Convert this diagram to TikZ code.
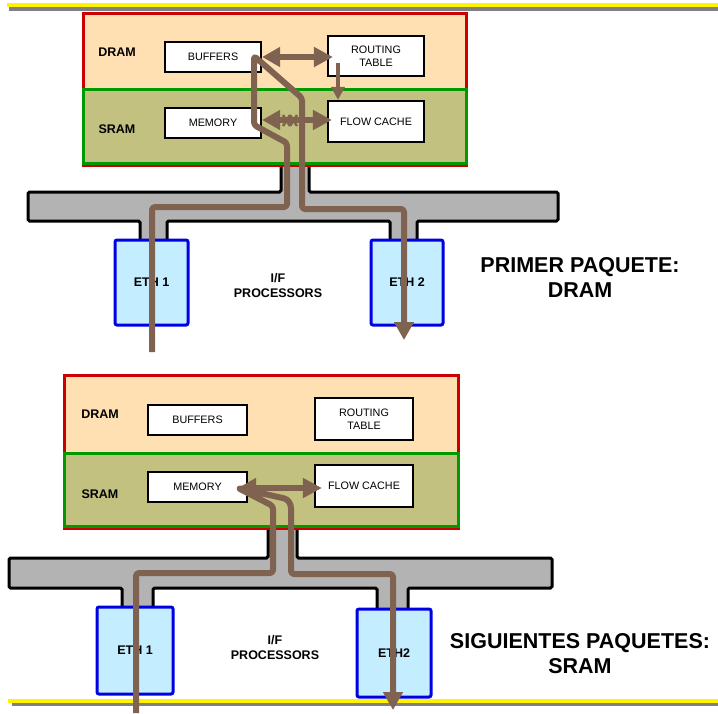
\documentclass[tikz,border=0pt]{standalone}
\usepackage{fontspec}
\setmainfont{Liberation Sans}
\usetikzlibrary{arrows.meta}
\definecolor{brn}{RGB}{128,98,80}
\definecolor{dramfill}{RGB}{255,224,178}
\definecolor{sramfill}{RGB}{194,193,128}
\definecolor{dramred}{RGB}{204,0,0}
\definecolor{sramgreen}{RGB}{0,153,0}
\definecolor{ethfill}{RGB}{196,238,255}
\definecolor{ethblue}{RGB}{0,0,224}
\definecolor{busgray}{RGB}{179,179,179}
\definecolor{rulegray}{RGB}{128,128,128}
\tikzset{
  region/.style={rectangle, inner sep=0pt, line width=3pt},
  dramreg/.style={region, draw=dramred, fill=dramfill},
  sramreg/.style={region, draw=sramgreen, fill=sramfill},
  memblk/.style={rectangle, draw=black, fill=white, line width=2.2pt, inner sep=0pt, align=center, font=\fontsize{10.8}{13}\selectfont},
  ethbox/.style={rectangle, draw=ethblue, fill=ethfill, line width=3pt, rounded corners=2pt, inner sep=0pt, font=\fontsize{12.5}{14}\selectfont\bfseries},
  lbl/.style={font=\fontsize{12.5}{15}\selectfont\bfseries, align=center, inner sep=0pt},
  ttl/.style={font=\fontsize{21.5}{25}\selectfont\bfseries, align=center, inner sep=0pt},
  bus/.style={draw=black, fill=busgray, line width=3pt, rounded corners=1.5pt},
  pkt/.style={draw=brn, line width=6pt, rounded corners=3pt, line join=round},
  bighead/.style={-{Triangle[length=18pt,width=19pt]}},
  dblhead/.style={{Triangle[length=18pt,width=19pt]}-{Triangle[length=19pt,width=19pt]}},
  thinarr/.style={draw=brn, line width=4pt, -{Triangle[length=13pt,width=13pt]}},
  xmark/.style={draw=brn, line width=2.5pt}
}
\begin{document}
\begin{tikzpicture}[x=1pt,y=-1pt]
\useasboundingbox (0,0) rectangle (718,713);
% horizontal rules
\draw[rulegray, line width=3.4pt] (9,9) -- (718,9);
\draw[yellow, line width=3.7pt] (7,5.2) -- (718,5.2);
\draw[rulegray, line width=3pt] (12,704.5) -- (718,704.5);
\draw[yellow, line width=4pt] (8,700.5) -- (718,700.5);

% ===== top panel =====
\draw[bus] (281,160) -- (281,192) -- (28,192) -- (28,221) -- (140,221) -- (140,243) -- (167,243) -- (167,221)
  -- (390,221) -- (390,243) -- (417,243) -- (417,221) -- (558,221) -- (558,192) -- (309,192) -- (309,160);
\node[dramreg, minimum width=383pt, minimum height=152pt] (dram1) at (274.5,89) {};
\node[sramreg, minimum width=383pt, minimum height=74pt] (sram1) at (274.5,126) {};
\node[lbl] (dl1) at (117,52) {DRAM};
\node[lbl] (sl1) at (117,129) {SRAM};
\node[memblk, minimum width=96pt, minimum height=30pt] (buf1) at (213,57) {BUFFERS};
\node[memblk, minimum width=96pt, minimum height=40pt] (rt1) at (376,56) {ROUTING\\TABLE};
\node[memblk, minimum width=96pt, minimum height=30pt] (mem1) at (213,123) {MEMORY};
\node[memblk, minimum width=96pt, minimum height=41pt] (fc1) at (376,121.5) {FLOW CACHE};
\node[ethbox, minimum width=73pt, minimum height=85pt] (eth1a) at (151.5,282.5) {ETH 1};
\node[ethbox, minimum width=72pt, minimum height=85pt] (eth2a) at (407,282.5) {ETH 2};
\node[lbl] (ifp1) at (278,286) {I/F\\PROCESSORS};
\node[ttl] (ttl1) at (580,277) {PRIMER PAQUETE:\\DRAM};

\coordinate (in1) at (152,352);
\coordinate (out1) at (404,340);
\draw[pkt, bighead] (in1) -- (152,207) -- (287,207) -- (287,143) -- (254,125) -- (254,56)
  -- (302,98) -- (302,209) -- (404,209) -- (out1);
\draw[pkt, dblhead] (buf1.east) -- ([xshift=6pt]buf1.east -| rt1.west);
\draw[pkt, dblhead] ([yshift=3pt]mem1.east) -- ([xshift=5pt,yshift=3pt]mem1.east -| fc1.west);
\coordinate (rtf) at (338,63);
\draw[thinarr] (rtf) -- (rtf |- fc1.north);
\draw[xmark] (283,115) -- (290,126) (283,126) -- (290,115) (290,115) -- (297,126) (290,126) -- (297,115);

% ===== bottom panel =====
\draw[bus] (268,524) -- (268,558) -- (9,558) -- (9,588) -- (122,588) -- (122,610) -- (153,610) -- (153,588)
  -- (377,588) -- (377,612) -- (408,612) -- (408,588) -- (552,588) -- (552,558) -- (297,558) -- (297,524);
\node[dramreg, minimum width=394pt, minimum height=153pt] (dram2) at (261,451.5) {};
\node[sramreg, minimum width=394pt, minimum height=73pt] (sram2) at (261,489.5) {};
\node[lbl] (dl2) at (100,414) {DRAM};
\node[lbl] (sl2) at (100,494) {SRAM};
\node[memblk, minimum width=99pt, minimum height=30pt] (buf2) at (197.5,420) {BUFFERS};
\node[memblk, minimum width=98pt, minimum height=42pt] (rt2) at (364,419) {ROUTING\\TABLE};
\node[memblk, minimum width=99pt, minimum height=30pt] (mem2) at (197.5,487) {MEMORY};
\node[memblk, minimum width=98pt, minimum height=42pt] (fc2) at (364,486) {FLOW CACHE};
\node[ethbox, minimum width=76pt, minimum height=87pt] (eth1b) at (135,650.5) {ETH 1};
\node[ethbox, minimum width=74pt, minimum height=88pt] (eth2b) at (394,653) {ETH2};
\node[lbl] (ifp2) at (275,648) {I/F\\PROCESSORS};
\node[ttl] (ttl2) at (580,654) {SIGUIENTES PAQUETES:\\SRAM};

\coordinate (in2) at (136,713);
\coordinate (out2) at (393,710);
\coordinate (j2) at (238,488);
\draw[pkt, bighead] (in2) -- (136,573) -- (273,573) -- (273,506) -- (j2)
  -- (287,499) -- (291,505) -- (291,574) -- (393,574) -- (out2);
\draw[pkt, dblhead] (j2) -- ([xshift=8pt]j2 -| fc2.west);
\end{tikzpicture}
\end{document}
